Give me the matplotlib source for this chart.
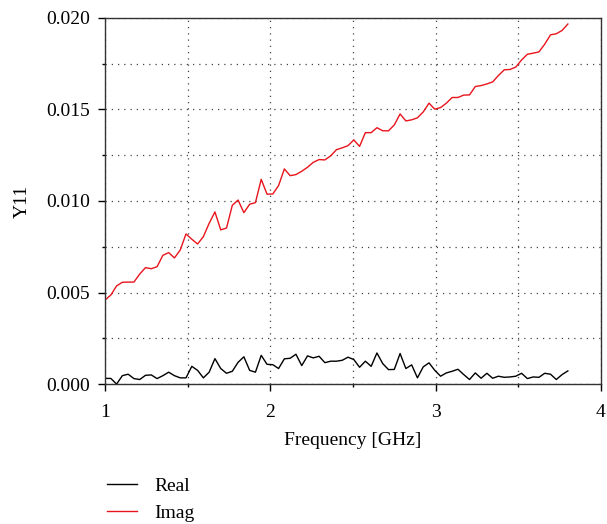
import numpy as np
import matplotlib
matplotlib.use("Agg")
import matplotlib.pyplot as plt
from matplotlib.ticker import MultipleLocator, FormatStrFormatter
from matplotlib.lines import Line2D

plt.rcParams['font.family'] = ['Liberation Serif', 'DejaVu Serif']

# frequency sweep, 1.0 .. 3.8 GHz
freq = np.linspace(1.0, 3.8, 81)

y11_real = [
    0.00031, 0.00031, 0.00000, 0.00046, 0.00054, 0.00030, 0.00025, 0.00048,
    0.00050, 0.00030, 0.00046, 0.00065, 0.00046, 0.00034, 0.00034, 0.00097,
    0.00075, 0.00034, 0.00065, 0.00139, 0.00085, 0.00059, 0.00070, 0.00119,
    0.00149, 0.00075, 0.00065, 0.00157, 0.00108, 0.00106, 0.00085, 0.00138,
    0.00141, 0.00163, 0.00101, 0.00154, 0.00143, 0.00152, 0.00117, 0.00125,
    0.00125, 0.00130, 0.00147, 0.00134, 0.00092, 0.00125, 0.00097, 0.00170,
    0.00112, 0.00079, 0.00080, 0.00167, 0.00085, 0.00105, 0.00034, 0.00094,
    0.00116, 0.00075, 0.00043, 0.00061, 0.00070, 0.00081, 0.00052, 0.00025,
    0.00061, 0.00032, 0.00059, 0.00032, 0.00043, 0.00037, 0.00039, 0.00043,
    0.00059, 0.00030, 0.00039, 0.00037, 0.00059, 0.00054, 0.00025, 0.00052,
    0.00072,
]

y11_imag = [
    0.00459, 0.00486, 0.00536, 0.00556, 0.00557, 0.00557, 0.00601, 0.00636,
    0.00630, 0.00641, 0.00703, 0.00718, 0.00689, 0.00732, 0.00820, 0.00791,
    0.00765, 0.00805, 0.00878, 0.00940, 0.00842, 0.00852, 0.00976, 0.01005,
    0.00936, 0.00982, 0.00991, 0.01118, 0.01037, 0.01038, 0.01084, 0.01175,
    0.01138, 0.01144, 0.01162, 0.01184, 0.01211, 0.01226, 0.01224, 0.01246,
    0.01280, 0.01290, 0.01302, 0.01333, 0.01298, 0.01373, 0.01373, 0.01400,
    0.01383, 0.01383, 0.01415, 0.01475, 0.01437, 0.01443, 0.01454, 0.01486,
    0.01534, 0.01501, 0.01510, 0.01534, 0.01565, 0.01565, 0.01578, 0.01579,
    0.01625, 0.01630, 0.01639, 0.01650, 0.01685, 0.01716, 0.01718, 0.01731,
    0.01770, 0.01801, 0.01807, 0.01814, 0.01856, 0.01907, 0.01913, 0.01931,
    0.01966,
]

fig = plt.figure(figsize=(6.07, 5.24), dpi=100)
ax = fig.add_axes([0.173, 0.267, 0.817, 0.699])

ax.plot(freq, y11_real, color='black', lw=1.0)
ax.plot(freq, y11_imag, color='#e8141c', lw=1.0)

ax.set_xlim(1, 4)
ax.set_ylim(0, 0.020)
ax.xaxis.set_major_locator(MultipleLocator(1))
ax.xaxis.set_minor_locator(MultipleLocator(0.5))
ax.yaxis.set_major_locator(MultipleLocator(0.005))
ax.yaxis.set_minor_locator(MultipleLocator(0.0025))
ax.yaxis.set_major_formatter(FormatStrFormatter('%.3f'))

ax.tick_params(which='both', direction='out', labelsize=14, width=1.0)
ax.tick_params(which='major', length=5, pad=6)
ax.tick_params(axis='x', which='major', pad=9)
ax.tick_params(which='minor', length=2.5)
for s in ax.spines.values():
    s.set_linewidth(1.0)
    s.set_color('#333333')

ax.grid(which='both', linestyle=(0, (1, 4)), color='#444444', lw=0.9)

ax.set_xlabel('Frequency [GHz]', fontsize=14, labelpad=8)
ax.set_ylabel('Y11', fontsize=14, labelpad=11)

handles = [Line2D([], [], color='black', lw=1.0),
           Line2D([], [], color='#e8141c', lw=1.0)]
fig.legend(handles, ['Real', 'Imag'], loc='upper left',
           bbox_to_anchor=(0.147, 0.122), frameon=False, fontsize=14,
           handlelength=1.55, handletextpad=0.9, labelspacing=0.45)

fig.savefig('out.png', dpi=100)
